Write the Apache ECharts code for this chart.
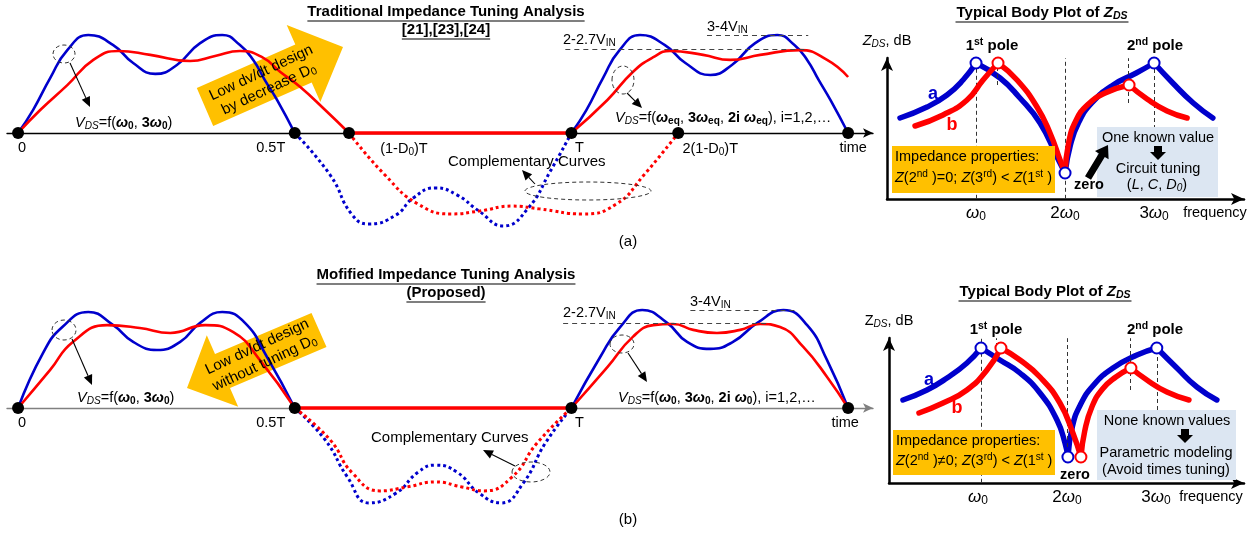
<!DOCTYPE html>
<html><head><meta charset="utf-8">
<script src="https://cdn.jsdelivr.net/npm/echarts@6/dist/echarts.min.js"></script>
<style>html,body{margin:0;padding:0;background:#fff}#c{width:1256px;height:547px}</style>
</head><body><div id="c"></div>
<script>
// ================= DATA =================
// time axis (units of T), voltage (units of V_IN-ish)
const timeTicksA = [0, 0.5, 0.598, 1.0, 1.193, 1.5];
const timeLabelsA = ['0', '0.5T', '(1-D{sub|0})T', 'T', '2(1-D{sub|0})T', 'time'];
const timeTicksB = [0, 0.5, 1.0, 1.5];
const timeLabelsB = ['0', '0.5T', 'T', 'time'];

const blueA1 = [[0,0],[0.027,0.82],[0.058,1.96],[0.089,2.96],[0.127,3.5],[0.172,3.14],[0.208,2.5],[0.248,2.11],[0.287,2.43],[0.329,3.21],[0.369,3.5],[0.401,3.14],[0.425,2.61],[0.446,1.89],[0.468,1.18],[0.5,0]];
const redA1  = [[0,0],[0.04,0.82],[0.089,1.71],[0.136,2.61],[0.181,2.93],[0.239,2.79],[0.311,2.57],[0.356,2.75],[0.401,2.93],[0.441,2.71],[0.474,2.18],[0.51,1.64],[0.555,0.82],[0.598,0]];
const redFlatA = [[0.598,0],[1.0,0]];
const blueA2 = [[1,0],[1.027,0.82],[1.057,1.96],[1.087,2.96],[1.124,3.5],[1.169,3.14],[1.206,2.5],[1.251,2.07],[1.29,2.43],[1.332,3.21],[1.372,3.5],[1.403,3.14],[1.426,2.61],[1.447,1.89],[1.468,1.18],[1.5,0]];
const redA2  = [[1,0],[1.065,1.18],[1.111,2.18],[1.148,2.71],[1.178,2.93],[1.238,2.79],[1.287,2.61],[1.341,2.79],[1.413,2.96],[1.462,2.61],[1.5,2.0]];
const blueDotA = [[0.5,0],[0.564,-1.5],[0.604,-2.93],[0.634,-3.25],[0.683,-2.93],[0.714,-2.32],[0.754,-1.96],[0.793,-2.21],[0.833,-2.79],[0.877,-3.32],[0.922,-2.68],[0.962,-1.36],[1.0,0]];
const redDotA  = [[0.598,0],[0.663,-1.5],[0.723,-2.54],[0.783,-2.89],[0.833,-2.79],[0.893,-2.61],[0.942,-2.71],[1.021,-2.89],[1.081,-2.54],[1.131,-1.5],[1.193,0]];

const blueB1 = [[0,0],[0.045,1.96],[0.08,2.89],[0.127,3.43],[0.172,2.96],[0.208,2.36],[0.251,2.07],[0.293,2.36],[0.329,3.04],[0.369,3.43],[0.41,3.04],[0.45,1.82],[0.5,0]];
const redB1  = [[0,0],[0.058,1.36],[0.099,2.36],[0.161,2.96],[0.22,2.86],[0.275,2.68],[0.338,2.96],[0.389,2.71],[0.437,1.71],[0.5,0]];
const redFlatB = [[0.5,0],[1.0,0]];
const blueB2 = [[1,0],[1.052,1.82],[1.088,2.89],[1.128,3.5],[1.173,3.04],[1.209,2.36],[1.251,2.11],[1.292,2.36],[1.336,3.04],[1.383,3.5],[1.426,2.96],[1.462,1.71],[1.5,0]];
const redB2  = [[1,0],[1.065,1.46],[1.111,2.54],[1.148,2.96],[1.184,3.0],[1.22,2.79],[1.263,2.68],[1.305,2.79],[1.341,3.0],[1.377,2.89],[1.419,2.18],[1.462,1.11],[1.5,0]];
const blueDotB = [[0.5,0],[0.555,-1.14],[0.595,-2.46],[0.634,-3.39],[0.683,-3.04],[0.723,-2.29],[0.754,-2.04],[0.793,-2.29],[0.833,-3.04],[0.873,-3.39],[0.913,-2.68],[0.953,-1.25],[1.0,0]];
const redDotB  = [[0.5,0],[0.564,-1.14],[0.604,-2.32],[0.654,-2.96],[0.703,-2.82],[0.754,-2.64],[0.802,-2.82],[0.842,-2.96],[0.893,-2.46],[0.938,-1.25],[1.0,0]];

// level lines [x1, x2, y]
const levelsA = [[0.989, 1.428, 3.0], [1.245, 1.428, 3.5]];
const levelsB = [[0.985, 1.354, 3.03], [1.215, 1.404, 3.5]];

// Bode plots: frequency (units of w0) vs |Z_DS| (dB), segments
const bodeBlueA = [
  [[0.146,20.25],[0.449,23],[0.674,26],[0.854,29.75],[1,34]],
  [[1,34],[1.27,30.25],[1.483,25.5],[1.719,19],[1.91,10.5],[2,6.5]],
  [[2,6.5],[2.06,13.5],[2.15,19],[2.3,24],[2.54,28.5],[2.8,31.5],[3,34]],
  [[3,34],[3.21,29],[3.44,24],[3.66,20.25]]
];
const bodeRedA = [
  [[0.315,18.25],[0.629,21],[0.899,24.75],[1.079,29.75],[1.247,34]],
  [[1.247,34],[1.461,29.75],[1.685,23],[1.831,16.5],[1.944,9.75],[2,6.5]],
  [[2,6.5],[2.04,14],[2.12,19.5],[2.25,23.5],[2.45,26.5],[2.719,28.5]],
  [[2.719,28.5],[2.921,25],[3.146,22],[3.371,20.25]]
];
const bodeBlueB = [
  [[0.157,20.75],[0.427,23.25],[0.652,26.25],[0.876,30],[1.034,33.75]],
  [[1.034,33.75],[1.247,30.75],[1.472,27.5],[1.697,22.5],[1.888,15.75],[1.978,10],[2.011,6.5]],
  [[2.011,6.5],[2.06,14],[2.15,19.5],[2.3,24.5],[2.517,28.75],[2.787,32],[3.01,33.75]],
  [[3.01,33.75],[3.236,28.75],[3.461,24],[3.685,20.75]]
];
const bodeRedB = [
  [[0.337,17.5],[0.607,20],[0.876,23.25],[1.101,28.25],[1.258,33.75]],
  [[1.258,33.75],[1.472,30.75],[1.697,26.5],[1.921,20],[2.067,12.5],[2.157,6.5]],
  [[2.157,6.5],[2.2,13],[2.28,19],[2.4,23.5],[2.55,26.5],[2.719,28.75]],
  [[2.719,28.75],[2.899,25.75],[3.124,22.75],[3.371,20.75]]
];
const polesBlueA = [[1,34],[2,6.5],[3,34]];
const polesRedA  = [[1.247,34],[2.719,28.5]];
const polesBlueB = [[1.034,33.75],[2.011,6.5],[3.01,33.75]];
const polesRedB  = [[1.258,33.75],[2.157,6.5],[2.719,28.75]];
// dashed guide lines [x, y1, y2]
const guidesA = [[1,0.05,35.2],[1.235,28.5,33],[2,0.05,35.2],[2.71,24,35.2],[3,17.5,35.2]];
const guidesB = [[1.034,0.05,36.2],[1.2,34,36.2],[2.0,9,36.2],[2.71,23.25,36.2],[3.01,18.25,34]];

// ================= STYLE / HELPERS =================
const FF = '"Liberation Sans", Arial, Helvetica, sans-serif';
const BLUE = '#0000CC', RED = '#FF0000', ORANGE = '#FFC000', LBLUE = '#DCE6F2';

function mkRich(fs, bold) {
  const w = bold ? 'bold' : 'normal';
  const s = Math.round(fs * 0.7 * 10) / 10;
  const pd = Math.round(fs * 0.45);
  return {
    i: {fontSize: fs, fontFamily: FF, fontStyle: 'italic', fontWeight: w},
    b: {fontSize: fs, fontFamily: FF, fontWeight: 'bold'},
    bi: {fontSize: fs, fontFamily: FF, fontWeight: 'bold', fontStyle: 'italic'},
    sub: {fontSize: s, fontFamily: FF, fontWeight: w, padding: [pd, 0, 0, 0]},
    isub: {fontSize: s, fontFamily: FF, fontWeight: w, fontStyle: 'italic', padding: [pd, 0, 0, 0]},
    bsub: {fontSize: s, fontFamily: FF, fontWeight: 'bold', padding: [pd, 0, 0, 0]},
    bisub: {fontSize: s, fontFamily: FF, fontWeight: 'bold', fontStyle: 'italic', padding: [pd, 0, 0, 0]},
    sup: {fontSize: s, fontFamily: FF, fontWeight: w, padding: [0, 0, pd, 0]},
    bsup: {fontSize: s, fontFamily: FF, fontWeight: 'bold', padding: [0, 0, pd, 0]}
  };
}
function T(x, y, text, o) {
  o = o || {};
  const fs = o.fs || 14;
  const st = {text: text, x: 0, y: 0, fill: o.color || '#000', fontSize: fs, fontFamily: FF,
    fontWeight: o.bold ? 'bold' : 'normal', fontStyle: o.italic ? 'italic' : 'normal',
    align: o.align || 'left', textAlign: o.align || 'left', verticalAlign: 'middle', textVerticalAlign: 'middle',
    rich: mkRich(fs, o.bold)};
  if (o.lh) { st.lineHeight = o.lh; }
  return {type: 'text', x: x, y: y, rotation: o.rot || 0, z: o.z || 60, silent: true, style: st};
}
const cv = document.createElement('canvas').getContext('2d');
function tw(parts) {
  let w = 0;
  parts.forEach(function (p) { cv.font = p[1]; w += cv.measureText(p[0]).width; });
  return w;
}
function uline(cx, y, w) {
  return {type: 'line', z: 60, silent: true, shape: {x1: cx - w / 2, y1: y, x2: cx + w / 2, y2: y}, style: {stroke: '#000', lineWidth: 1.2}};
}
function poly(points, fill, z) {
  return {type: 'polygon', z: z === undefined ? 0 : z, silent: true, shape: {points: points}, style: {fill: fill}};
}
function ell(cx, cy, rx, ry) {
  return {type: 'ellipse', z: 55, silent: true, shape: {cx: cx, cy: cy, rx: rx, ry: ry}, style: {fill: 'none', stroke: '#333', lineWidth: 1, lineDash: [4, 3]}};
}
function arrowLine(x1, y1, x2, y2) {
  const head = 10, hw = 4.5;
  const dx = x2 - x1, dy = y2 - y1, L = Math.hypot(dx, dy), ux = dx / L, uy = dy / L;
  const bx = x2 - ux * head, by = y2 - uy * head;
  return [
    {type: 'line', z: 55, silent: true, shape: {x1: x1, y1: y1, x2: bx, y2: by}, style: {stroke: '#000', lineWidth: 1.1}},
    poly([[x2, y2], [bx - uy * hw, by + ux * hw], [bx + uy * hw, by - ux * hw]], '#000', 55)
  ];
}
function rect(x, y, w, h, fill, z) {
  return {type: 'rect', z: z === undefined ? 0 : z, silent: true, shape: {x: x, y: y, width: w, height: h}, style: {fill: fill}};
}

// ================= SERIES =================
const series = [];
function wline(data, color, gi, o) {
  o = o || {};
  series.push({type: 'line', xAxisIndex: gi, yAxisIndex: gi, data: data, smooth: o.smooth === undefined ? 0.5 : o.smooth,
    symbol: 'none', silent: true, clip: false, z: o.z || 3, animation: false,
    lineStyle: {color: color, width: o.w || 2.6, type: o.dash || 'solid', cap: o.cap || 'butt', join: 'round', opacity: 1}});
}
function dots(ticks, labels, offs, gi) {
  series.push({type: 'scatter', xAxisIndex: gi, yAxisIndex: gi, symbolSize: 12, z: 10, silent: true,
    itemStyle: {color: '#000', opacity: 1},
    data: ticks.map(function (v, i) {
      return {value: [v, 0], label: {show: true, position: 'bottom', distance: 1, offset: [offs[i], 0],
        formatter: labels[i], fontSize: 14.5, fontFamily: FF, color: '#000', opacity: 1, rich: mkRich(14.5)}};
    })});
}
function levels(lv, gi) {
  series.push({type: 'line', xAxisIndex: gi, yAxisIndex: gi, data: [], silent: true,
    markLine: {silent: true, symbol: 'none', label: {show: false}, animation: false,
      lineStyle: {color: '#444', width: 1, type: [5, 4]},
      data: lv.map(function (l) { return [{coord: [l[0], l[2]]}, {coord: [l[1], l[2]]}]; })}});
}
function guides(g, gi) {
  series.push({type: 'line', xAxisIndex: gi, yAxisIndex: gi, data: [], silent: true, z: 2,
    markLine: {silent: true, symbol: 'none', label: {show: false}, animation: false,
      lineStyle: {color: '#333', width: 1, type: [4, 3]},
      data: g.map(function (l) { return [{coord: [l[0], l[1]]}, {coord: [l[0], l[2]]}]; })}});
}
function poles(data, color, gi) {
  series.push({type: 'scatter', xAxisIndex: gi, yAxisIndex: gi, data: data, symbolSize: 11, z: 12, silent: true,
    itemStyle: {color: '#fff', borderColor: color, borderWidth: 2, opacity: 1}});
}

// panel (a) waveform
levels(levelsA, 0);
wline(blueDotA, BLUE, 0, {dash: [3, 3], w: 3, z: 2});
wline(redDotA, RED, 0, {dash: [3, 3], w: 3, z: 2});
wline(blueA1, BLUE, 0); wline(blueA2, BLUE, 0);
wline(redA1, RED, 0); wline(redA2, RED, 0);
wline(redFlatA, RED, 0, {smooth: false, w: 3.4});
dots(timeTicksA, timeLabelsA, [4, -24, 55, 8, 32, 5], 0);
// panel (b) waveform
levels(levelsB, 1);
wline(blueDotB, BLUE, 1, {dash: [3, 3], w: 3, z: 2});
wline(redDotB, RED, 1, {dash: [3, 3], w: 3, z: 2});
wline(blueB1, BLUE, 1); wline(blueB2, BLUE, 1);
wline(redB1, RED, 1); wline(redB2, RED, 1);
wline(redFlatB, RED, 1, {smooth: false, w: 3.4});
dots(timeTicksB, timeLabelsB, [4, -24, 8, -3], 1);
// Bode (a)
guides(guidesA, 2);
bodeBlueA.forEach(function (s) { wline(s, BLUE, 2, {w: 5.5, cap: 'round', z: 4}); });
bodeRedA.forEach(function (s) { wline(s, RED, 2, {w: 5.5, cap: 'round', z: 5}); });
poles(polesRedA, RED, 2); poles(polesBlueA, BLUE, 2);
// Bode (b)
guides(guidesB, 3);
bodeBlueB.forEach(function (s) { wline(s, BLUE, 3, {w: 5.5, cap: 'round', z: 4}); });
bodeRedB.forEach(function (s) { wline(s, RED, 3, {w: 5.5, cap: 'round', z: 5}); });
poles(polesBlueB, BLUE, 3); poles(polesRedB, RED, 3);

// ================= AXES =================
function waveX(gi, color) {
  return {type: 'value', gridIndex: gi, min: -0.02, max: 1.545,
    axisLine: {show: true, onZero: true, symbol: ['none', 'arrow'], symbolSize: [7, 10], lineStyle: {color: color, width: 1.4}},
    axisTick: {show: false}, axisLabel: {show: false}, splitLine: {show: false}};
}
function waveY(gi) {
  return {type: 'value', gridIndex: gi, min: -3.5, max: 4.5, show: false, splitLine: {show: false}};
}
const wRich = {w: {fontSize: 17, fontFamily: FF, fontStyle: 'italic'}, s: {fontSize: 12, fontFamily: FF, padding: [8, 0, 0, 0]}, n: {fontSize: 17, fontFamily: FF}};
function bodeX(gi, max) {
  return {type: 'value', gridIndex: gi, min: 0, max: max, interval: 1,
    axisLine: {show: true, symbol: ['none', 'arrow'], symbolSize: [9, 13], lineStyle: {color: '#000', width: 2.5}},
    axisTick: {show: false}, splitLine: {show: false},
    axisLabel: {show: true, margin: 4, color: '#000', fontSize: 17, fontFamily: FF, rich: wRich,
      showMinLabel: false, showMaxLabel: false,
      formatter: function (v) {
        if (Math.abs(v - 1) < 1e-6) return '{w|ω}{s|0}';
        if (Math.abs(v - 2) < 1e-6) return '{n|2}{w|ω}{s|0}';
        if (Math.abs(v - 3) < 1e-6) return '{n|3}{w|ω}{s|0}';
        return '';
      }}};
}
function bodeY(gi, max, name) {
  return {type: 'value', gridIndex: gi, min: 0, max: max, name: name, nameLocation: 'end', nameGap: 9,
    nameTextStyle: {color: '#000', fontSize: 14.5, fontFamily: FF, rich: mkRich(14.5), align: 'center'},
    axisLine: {show: true, symbol: ['none', 'arrow'], symbolSize: [9, 13], lineStyle: {color: '#000', width: 2.5}},
    axisTick: {show: false}, axisLabel: {show: false}, splitLine: {show: false}};
}

// ================= GRAPHICS (annotations) =================
const G = [];
const TF = 15;
const fB = 'bold ' + TF + 'px ' + FF, fBI = 'italic bold ' + TF + 'px ' + FF, fBIs = 'italic bold ' + (TF * 0.7) + 'px ' + FF;
// titles (a)
G.push(T(446, 12, 'Traditional Impedance Tuning Analysis', {bold: true, fs: TF, align: 'center'}));
G.push(uline(446, 21, tw([['Traditional Impedance Tuning Analysis', fB]])));
G.push(T(446, 30, '[21],[23],[24]', {bold: true, fs: TF, align: 'center'}));
G.push(uline(446, 39, tw([['[21],[23],[24]', fB]])));
// titles (b)
G.push(T(446, 275, 'Mofified Impedance Tuning Analysis', {bold: true, fs: TF, align: 'center'}));
G.push(uline(446, 284, tw([['Mofified Impedance Tuning Analysis', fB]])));
G.push(T(446, 293, '(Proposed)', {bold: true, fs: TF, align: 'center'}));
G.push(uline(446, 302, tw([['(Proposed)', fB]])));
// bode titles
const bodeTitle = 'Typical Body Plot of {bi|Z}{bisub|DS}';
const btw = tw([['Typical Body Plot of ', fB], ['Z', fBI], ['DS', fBIs]]);
G.push(T(1042, 13, bodeTitle, {bold: true, fs: TF, align: 'center'}));
G.push(uline(1042, 22, btw + 2));
G.push(T(1045, 292, bodeTitle, {bold: true, fs: TF, align: 'center'}));
G.push(uline(1045, 301, btw + 2));

// orange block arrows
G.push(poly([[196.8,88.1],[295.3,44.6],[286.7,25],[343,47],[320.3,102],[311.7,82.4],[213.2,125.9]], ORANGE, 0));
G.push(T(265, 81, 'Low dv/dt design\nby decrease D{sub|0}', {fs: 15, align: 'center', rot: 0.44, lh: 18}));
G.push(poly([[311.5,313.1],[215,354.1],[206.8,335.3],[187,388],[238.2,406.7],[230,387.9],[326.5,346.9]], ORANGE, 0));
G.push(T(261, 355, 'Low dv/dt design\nwithout tuning D{sub|0}', {fs: 15, align: 'center', rot: 0.44, lh: 18}));

// waveform annotations (a)
G.push(ell(64, 54, 11, 9)); G.push.apply(G, arrowLine(70, 63, 90, 107));
G.push(T(75, 123, '{i|V}{isub|DS}=f({bi|ω}{bsub|0}, {b|3}{bi|ω}{bsub|0})', {fs: 14.5}));
G.push(ell(623, 80, 11, 14)); G.push.apply(G, arrowLine(627, 93, 642, 108));
G.push(T(615, 118, '{i|V}{isub|DS}=f({bi|ω}{bsub|eq}, {b|3}{bi|ω}{bsub|eq}, {b|2i} {bi|ω}{bsub|eq}), i=1,2,…', {fs: 14.5}));
G.push(T(563, 40, '2-2.7V{sub|IN}', {fs: 14.5}));
G.push(T(707, 27, '3-4V{sub|IN}', {fs: 14.5}));
G.push(T(448, 162, 'Complementary Curves', {fs: 15}));
G.push(ell(588, 191, 63, 9)); G.push.apply(G, arrowLine(535, 184, 522, 170));
G.push(T(628, 242, '(a)', {fs: 15, align: 'center'}));
// waveform annotations (b)
G.push(ell(64, 330, 12, 10)); G.push.apply(G, arrowLine(72, 339, 92, 385));
G.push(T(77, 398, '{i|V}{isub|DS}=f({bi|ω}{bsub|0}, {b|3}{bi|ω}{bsub|0})', {fs: 14.5}));
G.push(ell(622, 344, 12, 9)); G.push.apply(G, arrowLine(628, 353, 647, 382));
G.push(T(618, 398, '{i|V}{isub|DS}=f({bi|ω}{bsub|0}, {b|3}{bi|ω}{bsub|0}, {b|2i} {bi|ω}{bsub|0}), i=1,2,…', {fs: 14.5}));
G.push(T(563, 313, '2-2.7V{sub|IN}', {fs: 14.5}));
G.push(T(690, 302, '3-4V{sub|IN}', {fs: 14.5}));
G.push(T(371, 438, 'Complementary Curves', {fs: 15}));
G.push(ell(531, 472, 19, 10)); G.push.apply(G, arrowLine(515, 466, 483, 450));
G.push(T(628, 520, '(b)', {fs: 15, align: 'center'}));

// Bode (a) annotations
G.push(T(933, 94, 'a', {fs: 18, bold: true, color: BLUE, align: 'center'}));
G.push(T(952, 125, 'b', {fs: 18, bold: true, color: RED, align: 'center'}));
G.push(T(992, 46, '1{bsup|st} pole', {fs: 15, bold: true, align: 'center'}));
G.push(T(1155, 46, '2{bsup|nd} pole', {fs: 15, bold: true, align: 'center'}));
G.push(T(1215, 213, 'frequency', {fs: 14.5, align: 'center'}));
G.push(rect(892, 146, 163, 47, ORANGE, 8));
G.push(T(895, 157, 'Impedance properties:', {fs: 14.5}));
G.push(T(895, 178, '{i|Z}(2{sup|nd} )=0; {i|Z}(3{sup|rd}) < {i|Z}(1{sup|st} )', {fs: 14.5}));
G.push(rect(1097, 127, 121, 70, LBLUE, 8));
G.push(T(1158, 138, 'One known value', {fs: 14.5, align: 'center'}));
G.push(poly([[1154,146],[1162,146],[1162,152],[1166,152],[1158,160],[1150,152],[1154,152]], '#000', 20));
G.push(T(1158, 169, 'Circuit tuning', {fs: 14.5, align: 'center'}));
G.push(T(1157, 185, '({i|L}, {i|C}, {i|D}{isub|0})', {fs: 14.5, align: 'center'}));
G.push(poly([[1085,176.2],[1098.8,153.4],[1095,151.1],[1108,145],[1108.6,159.3],[1104.8,157],[1091,179.8]], '#000', 20));
G.push(T(1089, 185, 'zero', {fs: 14.5, bold: true, align: 'center'}));
// Bode (b) annotations
G.push(T(929, 380, 'a', {fs: 18, bold: true, color: BLUE, align: 'center'}));
G.push(T(957, 408, 'b', {fs: 18, bold: true, color: RED, align: 'center'}));
G.push(T(996, 330, '1{bsup|st} pole', {fs: 15, bold: true, align: 'center'}));
G.push(T(1155, 330, '2{bsup|nd} pole', {fs: 15, bold: true, align: 'center'}));
G.push(T(1211, 497, 'frequency', {fs: 14.5, align: 'center'}));
G.push(rect(893, 430, 162, 45, ORANGE, 8));
G.push(T(896, 441, 'Impedance properties:', {fs: 14.5}));
G.push(T(896, 461, '{i|Z}(2{sup|nd} )≠0; {i|Z}(3{sup|rd}) < {i|Z}(1{sup|st} )', {fs: 14.5}));
G.push(rect(1097, 410, 139, 70, LBLUE, 8));
G.push(T(1167, 421, 'None known values', {fs: 14.5, align: 'center'}));
G.push(poly([[1181,429],[1189,429],[1189,435],[1193,435],[1185,443],[1177,435],[1181,435]], '#000', 20));
G.push(T(1166, 453, 'Parametric modeling', {fs: 14.5, align: 'center'}));
G.push(T(1166, 470, '(Avoid times tuning)', {fs: 14.5, align: 'center'}));
G.push(T(1075, 475, 'zero', {fs: 14.5, bold: true, align: 'center'}));

// ================= OPTION =================
const option = {
  animation: false,
  backgroundColor: '#fff',
  grid: [
    {left: 7, top: 7, width: 866, height: 224, outerBoundsMode: 'none'},
    {left: 7, top: 282, width: 866, height: 224, outerBoundsMode: 'none'},
    {left: 887, top: 58, width: 357, height: 141, outerBoundsMode: 'none'},
    {left: 889, top: 338, width: 355, height: 145, outerBoundsMode: 'none'}
  ],
  xAxis: [waveX(0, '#000'), waveX(1, '#808080'), bodeX(2, 4.01), bodeX(3, 3.99)],
  yAxis: [waveY(0), waveY(1),
    bodeY(2, 35.25, '{i|Z}{isub|DS}, dB'),
    bodeY(3, 36.25, 'Z{isub|DS}, dB')],
  series: series,
  graphic: {elements: G}
};
const chart = echarts.init(document.getElementById('c'), null, {renderer: 'canvas', width: 1256, height: 547});
chart.setOption(option);
</script>
</body></html>
